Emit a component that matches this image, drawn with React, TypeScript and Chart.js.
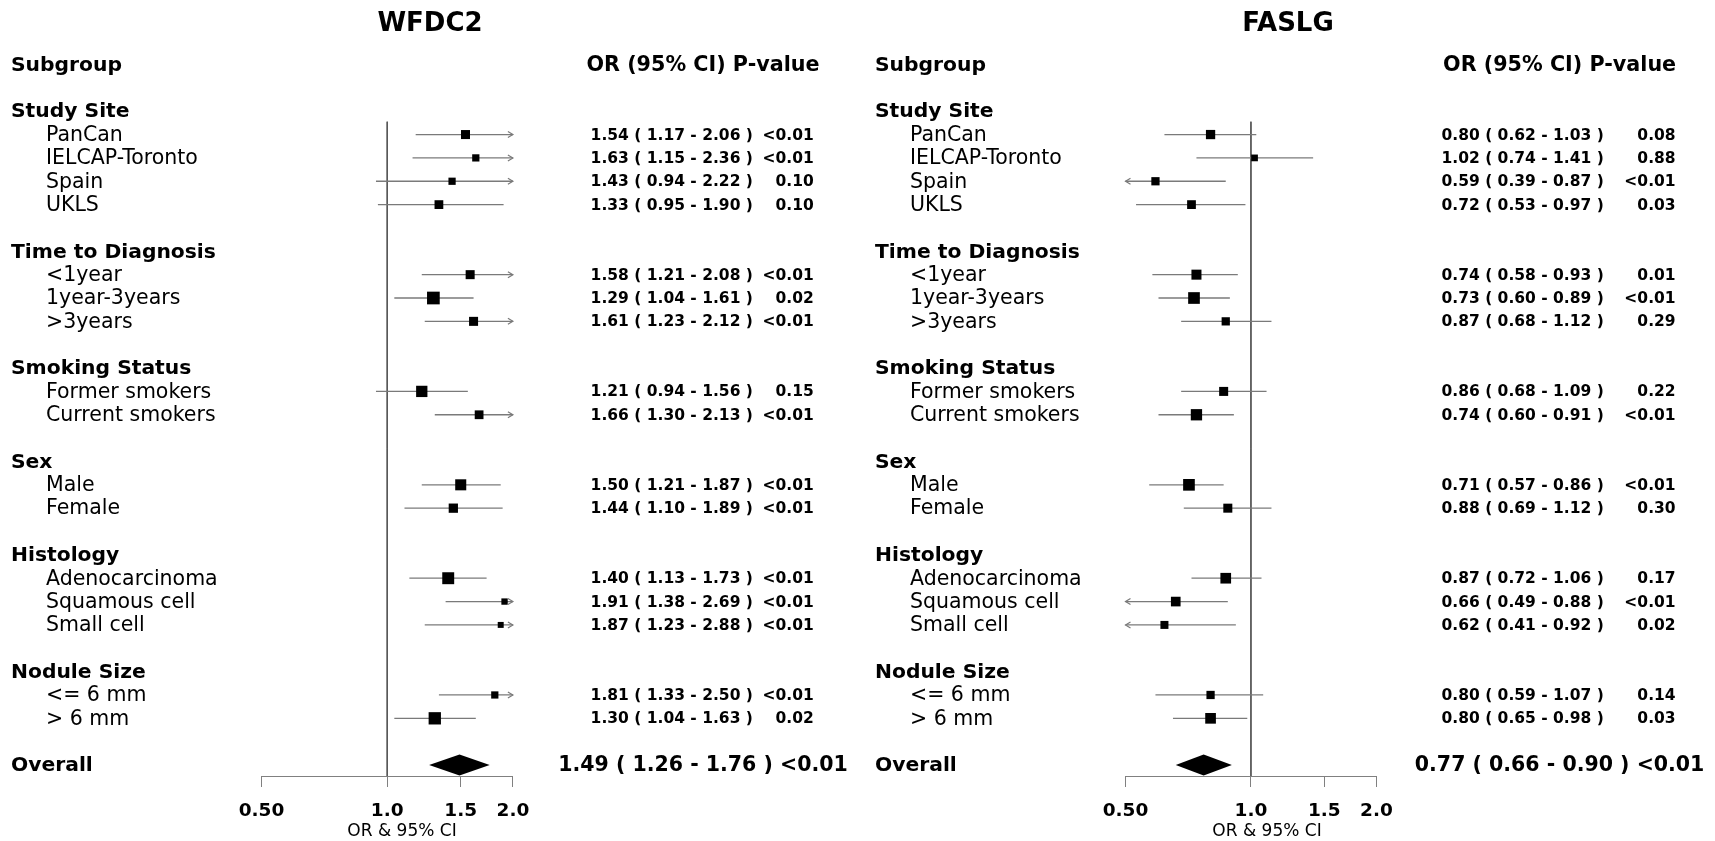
import { useEffect, useRef } from "react";
import { Chart, registerables } from "chart.js";

Chart.register(...registerables);

// ---------------- data ----------------
const groupNames = ["Study Site", "Time to Diagnosis", "Smoking Status", "Sex", "Histology", "Nodule Size"];
const groupSizes = [4, 3, 2, 2, 3, 2];
const subgroupLabels = [
  "PanCan", "IELCAP-Toronto", "Spain", "UKLS",
  "<1year", "1year-3years", ">3years",
  "Former smokers", "Current smokers",
  "Male", "Female",
  "Adenocarcinoma", "Squamous cell", "Small cell",
  "<= 6 mm", "> 6 mm",
];

const wfdc2OR = [1.54, 1.63, 1.43, 1.33, 1.58, 1.29, 1.61, 1.21, 1.66, 1.50, 1.44, 1.40, 1.91, 1.87, 1.81, 1.30];
const wfdc2Lower = [1.17, 1.15, 0.94, 0.95, 1.21, 1.04, 1.23, 0.94, 1.30, 1.21, 1.10, 1.13, 1.38, 1.23, 1.33, 1.04];
const wfdc2Upper = [2.06, 2.36, 2.22, 1.90, 2.08, 1.61, 2.12, 1.56, 2.13, 1.87, 1.89, 1.73, 2.69, 2.88, 2.50, 1.63];
const wfdc2P = ["<0.01", "<0.01", "0.10", "0.10", "<0.01", "0.02", "<0.01", "0.15", "<0.01", "<0.01", "<0.01", "<0.01", "<0.01", "<0.01", "<0.01", "0.02"];
const wfdc2Weight = [0.71, 0.57, 0.57, 0.69, 0.71, 1.0, 0.71, 0.89, 0.69, 0.87, 0.73, 0.94, 0.5, 0.47, 0.57, 0.97];
const wfdc2Overall = [1.49, 1.26, 1.76];
const wfdc2OverallP = "<0.01";

const faslgOR = [0.80, 1.02, 0.59, 0.72, 0.74, 0.73, 0.87, 0.86, 0.74, 0.71, 0.88, 0.87, 0.66, 0.62, 0.80, 0.80];
const faslgLower = [0.62, 0.74, 0.39, 0.53, 0.58, 0.60, 0.68, 0.68, 0.60, 0.57, 0.69, 0.72, 0.49, 0.41, 0.59, 0.65];
const faslgUpper = [1.03, 1.41, 0.87, 0.97, 0.93, 0.89, 1.12, 1.09, 0.91, 0.86, 1.12, 1.06, 0.88, 0.92, 1.07, 0.98];
const faslgP = ["0.08", "0.88", "<0.01", "0.03", "0.01", "<0.01", "0.29", "0.22", "<0.01", "<0.01", "0.30", "0.17", "<0.01", "0.02", "0.14", "0.03"];
const faslgWeight = [0.73, 0.53, 0.65, 0.69, 0.79, 0.92, 0.65, 0.71, 0.89, 0.92, 0.71, 0.84, 0.76, 0.63, 0.65, 0.84];
const faslgOverall = [0.77, 0.66, 0.90];
const faslgOverallP = "<0.01";

const xTicks = [0.5, 1, 1.5, 2];
const xTickLabels = ["0.50", "1.0", "1.5", "2.0"];
const refValue = 1;

// ---------------- layout / style ----------------
const W = 1715;
const H = 841;
const FONT = '"DejaVu Sans", sans-serif';
const ROW0_Y = 64.5;
const AXIS_Y = 776;
const Y_MAX = 30.47;
const REF_TOP_ROW = 2.45;
const BOX_MAX = 12.7;
const DIAMOND_HALF = 0.45;
const TEXT_DY = 1;
const CI_COLOR = "#7a7a7a";
const REF_COLOR = "#555555";
const AXIS_COLOR = "#808080";

type Layout = {
  axisLeft: number; axisRight: number; titleX: number; groupX: number; itemX: number;
  valLeft: number; valRight: number; valCenter: number; axisTitleX: number;
};
type PanelData = {
  title: string; or: number[]; lower: number[]; upper: number[]; p: string[]; weight: number[];
  overall: number[]; overallP: string; layout: Layout;
};

const panels: PanelData[] = [
  {
    title: "WFDC2", or: wfdc2OR, lower: wfdc2Lower, upper: wfdc2Upper, p: wfdc2P, weight: wfdc2Weight,
    overall: wfdc2Overall, overallP: wfdc2OverallP,
    layout: { axisLeft: 261.5, axisRight: 512.9, titleX: 430, groupX: 11, itemX: 46, valLeft: 590.6, valRight: 813.7, valCenter: 703, axisTitleX: 402 },
  },
  {
    title: "FASLG", or: faslgOR, lower: faslgLower, upper: faslgUpper, p: faslgP, weight: faslgWeight,
    overall: faslgOverall, overallP: faslgOverallP,
    layout: { axisLeft: 1125.5, axisRight: 1376.4, titleX: 1288, groupX: 875, itemX: 910, valLeft: 1441.5, valRight: 1675.6, valCenter: 1559.6, axisTitleX: 1267 },
  },
];

// row structure
const headerRows: number[] = [];
const itemRows: number[] = [];
let rr = 2;
groupSizes.forEach((n) => {
  headerRows.push(rr);
  for (let i = 1; i <= n; i++) itemRows.push(rr + i);
  rr += n + 2;
});
const overallRow = rr;

const f2 = (v: number) => v.toFixed(2);

function makeChart(canvas: HTMLCanvasElement, pd: PanelData) {
  const L = pd.layout;
  const datasets: any[] = [];
  datasets.push({
    type: "scatter",
    data: pd.or.map((v, i) => ({ x: v, y: itemRows[i] })),
    pointStyle: "rect",
    pointRadius: pd.weight.map((w) => (w * BOX_MAX) / (2 * Math.SQRT1_2)),
    backgroundColor: "#000",
    borderWidth: 0,
    clip: false,
    order: 0,
  });
  pd.or.forEach((_, i) => {
    datasets.push({
      type: "line",
      data: [{ x: pd.lower[i], y: itemRows[i] }, { x: pd.upper[i], y: itemRows[i] }],
      borderColor: CI_COLOR,
      borderWidth: 1.3,
      pointRadius: 0,
      clip: 0,
      order: 1,
    });
  });
  datasets.push({
    type: "line",
    data: [{ x: refValue, y: REF_TOP_ROW }, { x: refValue, y: Y_MAX }],
    borderColor: REF_COLOR,
    borderWidth: 1,
    pointRadius: 0,
    clip: false,
    order: 2,
  });

  const drawPlugin = {
    id: "forestExtras",
    afterDatasetsDraw(chart: any) {
      const ctx = chart.ctx;
      const xs = chart.scales.x;
      const ys = chart.scales.y;
      ctx.save();
      // arrows for clipped CIs
      ctx.strokeStyle = CI_COLOR;
      ctx.lineWidth = 1.2;
      pd.or.forEach((_, i) => {
        const y = ys.getPixelForValue(itemRows[i]);
        if (pd.upper[i] > xs.max) {
          const x = xs.getPixelForValue(xs.max);
          ctx.beginPath();
          ctx.moveTo(x - 5, y - 3);
          ctx.lineTo(x, y);
          ctx.lineTo(x - 5, y + 3);
          ctx.stroke();
        }
        if (pd.lower[i] < xs.min) {
          const x = xs.getPixelForValue(xs.min);
          ctx.beginPath();
          ctx.moveTo(x + 5, y - 3);
          ctx.lineTo(x, y);
          ctx.lineTo(x + 5, y + 3);
          ctx.stroke();
        }
      });
      // summary diamond
      const [est, lo, hi] = pd.overall;
      const yc = ys.getPixelForValue(overallRow);
      const yt = ys.getPixelForValue(overallRow - DIAMOND_HALF);
      const yb = ys.getPixelForValue(overallRow + DIAMOND_HALF);
      ctx.fillStyle = "#000";
      ctx.beginPath();
      ctx.moveTo(xs.getPixelForValue(lo), yc);
      ctx.lineTo(xs.getPixelForValue(est), yt);
      ctx.lineTo(xs.getPixelForValue(hi), yc);
      ctx.lineTo(xs.getPixelForValue(est), yb);
      ctx.closePath();
      ctx.fill();
      ctx.restore();
    },
    afterDraw(chart: any) {
      const ctx = chart.ctx;
      const ys = chart.scales.y;
      const ry = (r: number) => ys.getPixelForValue(r) + TEXT_DY;
      ctx.save();
      ctx.fillStyle = "#000";
      ctx.textBaseline = "middle";
      // title
      ctx.font = `bold 26px ${FONT}`;
      ctx.textAlign = "center";
      ctx.fillText(pd.title, L.titleX, 24);
      // headers
      ctx.font = `bold 20.3px ${FONT}`;
      ctx.textAlign = "left";
      ctx.fillText("Subgroup", L.groupX, ry(0));
      ctx.textAlign = "center";
      ctx.font = `bold 20.7px ${FONT}`;
      ctx.fillText("OR (95% CI) P-value", L.valCenter, ry(0));
      // group names
      ctx.font = `bold 20.3px ${FONT}`;
      ctx.textAlign = "left";
      groupNames.forEach((g, i) => ctx.fillText(g, L.groupX, ry(headerRows[i])));
      ctx.fillText("Overall", L.groupX, ry(overallRow));
      // subgroup labels
      ctx.font = `20.5px ${FONT}`;
      subgroupLabels.forEach((s, i) => ctx.fillText(s, L.itemX, ry(itemRows[i])));
      // values
      ctx.font = `bold 15.5px ${FONT}`;
      pd.or.forEach((v, i) => {
        const y = ry(itemRows[i]);
        ctx.textAlign = "left";
        ctx.fillText(`${f2(v)} ( ${f2(pd.lower[i])} - ${f2(pd.upper[i])} )`, L.valLeft, y);
        ctx.textAlign = "right";
        ctx.fillText(pd.p[i], L.valRight, y);
      });
      ctx.font = `bold 20.5px ${FONT}`;
      ctx.textAlign = "center";
      const [est, lo, hi] = pd.overall;
      ctx.fillText(`${f2(est)} ( ${f2(lo)} - ${f2(hi)} ) ${pd.overallP}`, L.valCenter, ry(overallRow));
      // axis title
      ctx.font = `17px ${FONT}`;
      ctx.fillText("OR & 95% CI", L.axisTitleX, 831.5);
      ctx.restore();
    },
  };

  return new Chart(canvas, {
    type: "scatter",
    data: { datasets },
    options: {
      animation: false,
      responsive: false,
      devicePixelRatio: 1,
      events: [],
      layout: { padding: { left: L.axisLeft, right: W - L.axisRight, top: ROW0_Y, bottom: 0 } },
      plugins: { legend: { display: false }, tooltip: { enabled: false }, title: { display: false } },
      scales: {
        x: {
          type: "logarithmic",
          min: xTicks[0],
          max: xTicks[xTicks.length - 1],
          bounds: "data",
          position: "bottom",
          afterBuildTicks: (s: any) => {
            s.ticks = xTicks.map((v) => ({ value: v }));
          },
          afterFit: (s: any) => {
            s.height = H - AXIS_Y;
          },
          grid: { drawOnChartArea: false, drawTicks: true, tickLength: 11, color: AXIS_COLOR, lineWidth: 1 },
          border: { display: true, color: AXIS_COLOR, width: 1 },
          ticks: {
            autoSkip: false,
            maxRotation: 0,
            padding: 13,
            color: "#000",
            font: { family: FONT, size: 18.5, weight: "bold" },
            callback: (_v: any, i: number) => xTickLabels[i],
          },
          title: { display: false },
        },
        y: { type: "linear", min: 0, max: Y_MAX, reverse: true, display: false },
      },
    } as any,
    plugins: [drawPlugin],
  } as any);
}

export default function App() {
  const leftRef = useRef<HTMLCanvasElement>(null);
  const rightRef = useRef<HTMLCanvasElement>(null);
  useEffect(() => {
    document.body.style.margin = "0";
    document.body.style.background = "#fff";
    const c1 = makeChart(leftRef.current!, panels[0]);
    const c2 = makeChart(rightRef.current!, panels[1]);
    return () => {
      c1.destroy();
      c2.destroy();
    };
  }, []);
  return (
    <div style={{ position: "relative", width: W, height: H, background: "#fff" }}>
      <canvas ref={leftRef} width={W} height={H} style={{ position: "absolute", left: 0, top: 0 }} />
      <canvas ref={rightRef} width={W} height={H} style={{ position: "absolute", left: 0, top: 0 }} />
    </div>
  );
}
